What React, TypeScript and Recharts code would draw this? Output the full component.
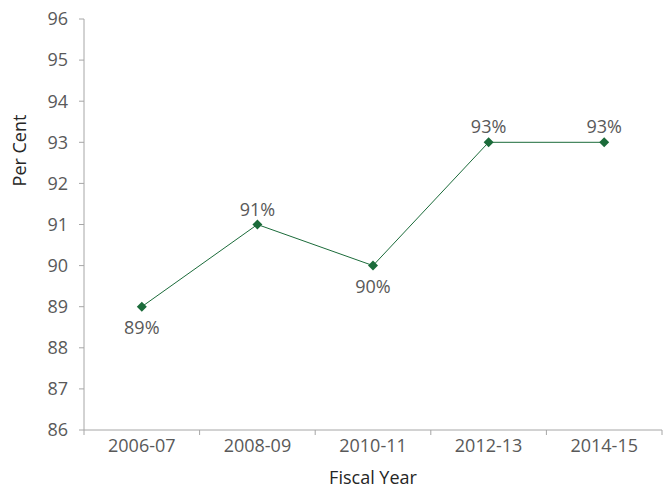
import { LineChart, Line, XAxis, YAxis, LabelList } from "recharts";

const CATEGORIES = ["2006-07", "2008-09", "2010-11", "2012-13", "2014-15"];
const VALUES = [89, 91, 90, 93, 93];
const LABEL_POS = ["below", "above", "below", "above", "above"];
const Y_TICKS = [86, 87, 88, 89, 90, 91, 92, 93, 94, 95, 96];

const data = CATEGORIES.map((year, i) => ({ year, value: VALUES[i], pos: LABEL_POS[i] }));

const FONT = "'Open Sans', sans-serif";
const GREEN = "#1b6b3a";
const AXIS = "#a6a6a6";
const TICK_TEXT = "#595959";

const W = 665;
const H = 489;
const PLOT_LEFT = 84;
const PLOT_RIGHT = 662;
const BAND = (PLOT_RIGHT - PLOT_LEFT) / CATEGORIES.length;

function XTick(props: any) {
  const { x, y, payload, index } = props;
  const axisY = y - 11;
  const left = x - BAND / 2;
  return (
    <g>
      <line x1={left} x2={left} y1={axisY} y2={axisY + 5} stroke={AXIS} />
      {index === CATEGORIES.length - 1 && (
        <line x1={x + BAND / 2} x2={x + BAND / 2} y1={axisY} y2={axisY + 5} stroke={AXIS} />
      )}
      <text x={x} y={axisY + 22} textAnchor="middle" fill={TICK_TEXT} fontSize={18} fontFamily={FONT}>
        {payload.value}
      </text>
    </g>
  );
}

function Diamond(props: any) {
  const { cx, cy } = props;
  if (cx == null || cy == null) return null;
  const r = 5;
  return (
    <path d={`M${cx},${cy - r}L${cx + r},${cy}L${cx},${cy + r}L${cx - r},${cy}Z`} fill={GREEN} />
  );
}

function PctLabel(props: any) {
  const { x, y, value, index } = props;
  const below = LABEL_POS[index] === "below";
  return (
    <text
      x={x}
      y={below ? y + 27 : y - 9}
      textAnchor="middle"
      fill={TICK_TEXT}
      fontSize={18}
      fontFamily={FONT}
    >
      {value}%
    </text>
  );
}

export default function App() {
  return (
    <div style={{ position: "absolute", left: 0, top: 0, width: W, height: H, background: "#fff" }}>
      <LineChart width={W} height={H} data={data} margin={{ top: 19, right: W - PLOT_RIGHT, bottom: 0, left: 0 }}>
        <XAxis
          dataKey="year"
          scale="band"
          stroke={AXIS}
          tickLine={false}
          tickSize={5}
          tickMargin={6}
          height={59}
          tick={<XTick />}
          label={{
            value: "Fiscal Year",
            position: "insideBottom",
            offset: 5,
            fill: "#262626",
            fontSize: 18,
            fontFamily: FONT,
          }}
        />
        <YAxis
          domain={[86, 96]}
          ticks={Y_TICKS}
          interval={0}
          width={PLOT_LEFT}
          stroke={AXIS}
          tickSize={5}
          tickMargin={11}
          tick={{ fill: TICK_TEXT, fontSize: 18, fontFamily: FONT }}
          label={{
            value: "Per Cent",
            angle: -90,
            position: "insideLeft",
            offset: 20,
            dy: -74,
            dx: 0,
            fill: "#262626",
            fontSize: 18,
            fontFamily: FONT,
            style: { textAnchor: "middle" },
          }}
        />
        <Line
          dataKey="value"
          stroke={GREEN}
          strokeWidth={1}
          dot={<Diamond />}
          activeDot={false}
          isAnimationActive={false}
        >
          <LabelList dataKey="value" content={<PctLabel />} />
        </Line>
      </LineChart>
    </div>
  );
}
